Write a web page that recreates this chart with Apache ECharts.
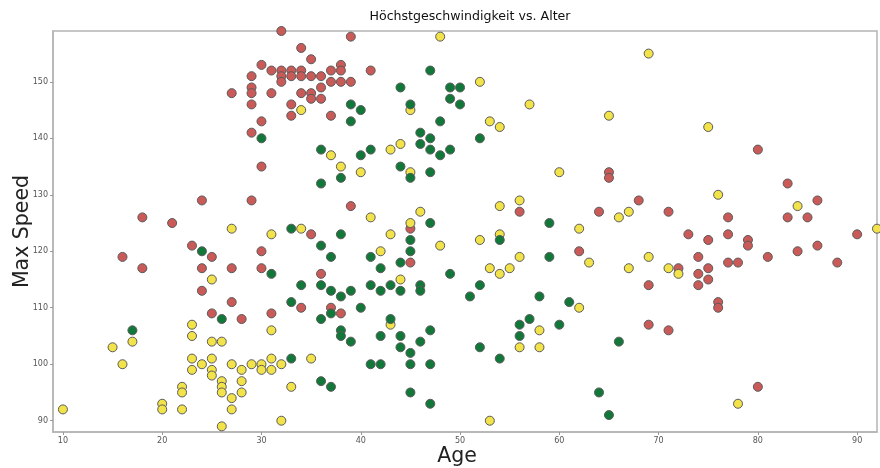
<!DOCTYPE html>
<html>
<head>
<meta charset="utf-8">
<script src="https://cdn.jsdelivr.net/npm/echarts@6/dist/echarts.min.js"></script>
<style>
  html, body { margin: 0; padding: 0; background: #fff; }
  #chart { width: 880px; height: 468px; }
</style>
</head>
<body>
<div id="chart"></div>
<script>
// Tick positions for both axes
const xTicks = [10, 20, 30, 40, 50, 60, 70, 80, 90];
const yTicks = [90, 100, 110, 120, 130, 140, 150];

// [age, max speed] per group
const redPoints = [
  [30,153],[29,151],[29,149],[29,148],[27,148],[29,146],[30,143],[29,141],[30,135],
  [32,159],[39,158],[34,156],[35,154],[31,152],[32,152],[33,152],[34,152],[38,153],[38,152],
  [37,152],[41,152],[32,151],[33,151],[34,151],[35,151],[36,151],[32,150],[37,150],[38,150],
  [39,150],[36,149],[31,148],[34,148],[35,148],[35,147],[36,147],[33,146],[33,144],[37,144],
  [24,129],[29,129],[18,126],[21,125],[23,121],[25,119],[16,119],[30,120],[18,117],[24,117],
  [27,117],[30,117],[24,113],[27,111],
  [39,128],[45,124],[35,123],[36,116],[45,118],
  [31,109],[34,110],[37,110],[38,109],[25,109],[28,108],
  [65,134],[65,133],[56,127],[64,127],[68,129],[71,127],[62,120],[72,117],[69,114],
  [69,107],[71,106],[80,138],
  [83,132],[86,129],[83,126],[85,126],[77,126],[73,123],[77,123],[75,122],[79,122],[79,121],
  [84,120],[86,121],[90,123],[74,119],[81,119],[77,118],[78,118],[88,118],[75,117],[74,116],
  [75,115],[74,114],[76,111],[76,110],[80,96]
];

const yellowPoints = [
  [48,158],[34,145],[45,145],[44,139],[43,138],[37,137],
  [69,155],[52,150],[57,146],[53,143],[54,142],[65,144],[75,142],
  [27,124],[25,115],
  [38,135],[45,134],[40,134],[41,126],[46,127],[45,125],[34,124],[31,123],[43,123],[48,121],
  [42,120],[44,115],
  [43,107],[31,106],[31,101],[35,101],[30,100],[30,99],[31,99],[32,100],[33,96],[32,90],
  [17,104],[15,103],[16,100],[10,92],[23,107],[23,105],[25,104],[26,104],[23,101],[25,101],
  [24,100],[23,99],[25,99],[25,98],[27,100],[28,99],[29,100],[26,97],[26,96],[26,95],[28,97],
  [28,95],[27,94],[27,92],[26,89],[22,96],[22,95],[22,92],[20,93],[20,92],
  [60,134],[54,128],[56,129],[66,126],[67,127],[62,124],[54,123],[52,122],[56,119],[63,118],
  [69,119],[53,117],[55,117],[54,116],[67,117],[71,117],[72,116],
  [62,110],[58,106],[56,103],[58,103],[53,90],
  [76,130],[84,128],[92,124],[78,93]
];

const greenPoints = [
  [30,140],
  [47,152],[44,149],[49,149],[50,149],[49,147],[39,146],[45,146],[50,146],[40,145],[39,143],
  [48,143],[46,141],[46,139],[47,140],[41,138],[40,137],[36,138],[47,138],[48,137],[49,138],
  [44,135],[52,140],[24,120],
  [45,133],[47,134],[38,133],[36,132],[47,125],[33,124],[38,123],[45,122],[36,121],[45,120],
  [37,119],[41,119],[42,117],[44,118],[31,116],[49,116],[34,114],[36,114],[41,114],[43,114],
  [46,114],[37,113],[39,113],[42,113],[44,113],[46,113],[38,112],[51,112],
  [33,111],[37,109],[36,108],[40,110],[43,108],[38,106],[38,105],[39,104],[42,105],[44,105],
  [47,106],[46,104],[44,103],[45,102],[33,101],[41,100],[42,100],[45,100],[47,100],[36,97],
  [37,96],[45,95],[47,93],
  [26,108],[17,106],
  [59,125],[54,122],[59,119],[52,114],[58,112],
  [61,111],[57,108],[56,107],[60,107],[56,105],[52,103],[54,101],[66,104],[64,95],[65,91]
];

const font = 'DejaVu Sans';
const edge = '#5a5a5a';

function group(name, data, color) {
  return {
    name: name,
    type: 'scatter',
    data: data,
    symbol: 'circle',
    symbolSize: 9,
    itemStyle: { color: color, borderColor: edge, borderWidth: 1, opacity: 1 },
    emphasis: { disabled: true },
    clip: true
  };
}

const chart = echarts.init(document.getElementById('chart'), null, { renderer: 'canvas' });
chart.setOption({
  animation: false,
  backgroundColor: '#ffffff',
  title: {
    text: 'Höchstgeschwindigkeit vs. Alter',
    left: 465, top: 5, textAlign: 'center',
    textStyle: { fontFamily: font, fontSize: 12.6, fontWeight: 'normal', color: '#111' }
  },
  grid: {
    left: 53, right: 3, top: 31, bottom: 36,
    containLabel: false, outerBoundsMode: 'none',
    show: true, borderColor: '#b4b4b4', borderWidth: 1.5, backgroundColor: '#fff'
  },
  xAxis: {
    type: 'value', min: 9, max: 92,
    name: 'Age', nameLocation: 'middle', nameGap: 14, nameMoveOverlap: false,
    nameTextStyle: { fontFamily: font, fontSize: 20.5, color: '#222', padding: [0, 16, 0, 0] },
    axisLine: { show: true, lineStyle: { color: '#b4b4b4', width: 1.5 } },
    axisTick: { show: true, length: 3, customValues: xTicks, lineStyle: { color: '#999' } },
    axisLabel: { customValues: xTicks, fontFamily: font, fontSize: 8, color: '#555', margin: 5 },
    splitLine: { show: false }
  },
  yAxis: {
    type: 'value', min: 88, max: 159,
    name: 'Max Speed', nameLocation: 'middle', nameGap: 20, nameRotate: 90, nameMoveOverlap: false,
    nameTextStyle: { fontFamily: font, fontSize: 20.5, color: '#222' },
    axisLine: { show: true, lineStyle: { color: '#b4b4b4', width: 1.5 } },
    axisTick: { show: true, length: 3, customValues: yTicks, lineStyle: { color: '#999' } },
    axisLabel: { customValues: yTicks, fontFamily: font, fontSize: 8, color: '#555', margin: 5 },
    splitLine: { show: false }
  },
  series: [
    group('red', redPoints, '#c95a58'),
    group('yellow', yellowPoints, '#f2e34a'),
    group('green', greenPoints, '#12783a')
  ]
});
</script>
</body>
</html>
